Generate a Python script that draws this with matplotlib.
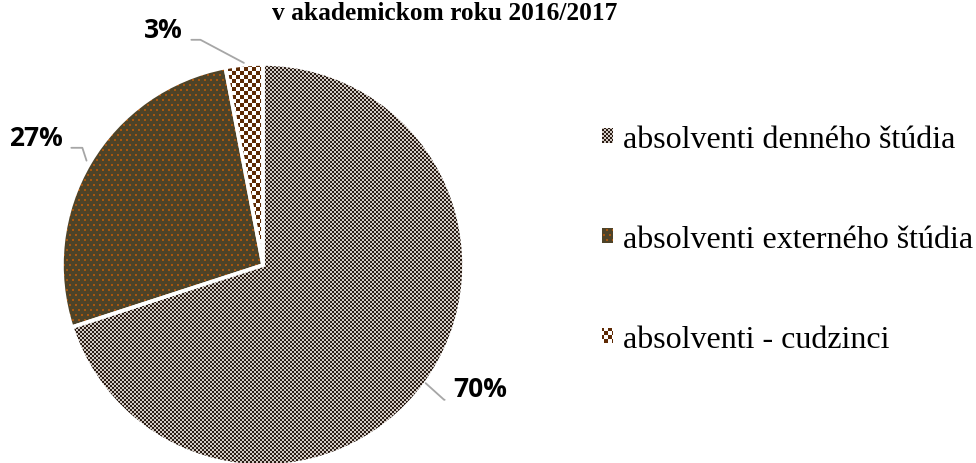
import numpy as np
import matplotlib
matplotlib.use("Agg")
import matplotlib.pyplot as plt
import matplotlib.patches as mpatches
from matplotlib.colors import to_rgb

# ---- data ----
categories = ['absolventi denného štúdia', 'absolventi externého štúdia', 'absolventi - cudzinci']
values = [70, 27, 3]
pct_labels = [f'{v}%' for v in values]
title_line = 'v akademickom roku 2016/2017'

W, H = 976, 464
fig = plt.figure(figsize=(W / 100, H / 100), dpi=100)
ax = fig.add_axes([0, 0, 1, 1])
ax.axis('off')

# ---- pattern fills (styling) ----
yy, xx = np.mgrid[0:H, 0:W]
def fill(mask, c1, c2):
    a = np.empty((H, W, 3))
    a[:] = to_rgb(c2)
    a[mask] = to_rgb(c1)
    return a

p1 = fill(((xx // 2 + yy // 2) % 2) == 0, '#2a1c14', '#d2cac4')
row = yy // 5
p2 = fill((((xx + 3 * (row % 2)) % 6) < 2) & ((yy % 5) < 2), '#a8560f', '#4e4328')
p3 = fill(((xx // 4 + yy // 4) % 2) == 0, '#5e2a04', '#ffffff')
patterns = [p1, p2, p3]
avg_colors = ['#807770', '#55462a', '#ae9482']

center = (263, 198)
radius = 201
explode = [0, 0.02, 0.01]

wedges, _ = ax.pie(values, colors=avg_colors, startangle=90, counterclock=False,
                   center=center, radius=radius, explode=explode,
                   wedgeprops=dict(linewidth=0))
for w, p in zip(wedges, patterns):
    im = ax.imshow(p, extent=(0, W, 0, H), origin='upper', interpolation='nearest', zorder=2)
    im.set_clip_path(w)

# white separators
edges, _ = ax.pie(values, startangle=90, counterclock=False, center=center,
                  radius=radius, explode=explode,
                  wedgeprops=dict(fill=False, edgecolor='white', linewidth=2.6))
for e in edges:
    e.set_zorder(3)

ax.set_xlim(0, W)
ax.set_ylim(0, H)
ax.set_aspect('equal')

# ---- percentage labels with leader lines ----
label_pos = [(453, 74), (63, 326), (183, 434)]
label_ha = ['left', 'right', 'right']
relpos = [(0, 0.1), (1, 0.1), (1, 0.1)]
angleB = [-42, 108, 152]
ang = 90.0
for i, v in enumerate(values):
    span = 360.0 * v / sum(values)
    mid = np.deg2rad(ang - span / 2)
    ang -= span
    r = radius * (1 + explode[i])
    xy = (center[0] + r * np.cos(mid), center[1] + r * np.sin(mid))
    ax.annotate(pct_labels[i], xy=xy, xytext=label_pos[i], ha=label_ha[i], va='center',
                fontsize=19, fontweight='bold', family='Open Sans', color='black', zorder=4,
                arrowprops=dict(arrowstyle='-', color='#a6a6a6', lw=1.3, shrinkA=4, shrinkB=0,
                                relpos=relpos[i],
                                connectionstyle=f'angle,angleA=0,angleB={angleB[i]},rad=0'))

# ---- title (first line outside visible area) ----
fig.text(445 / W, 1 - 20 / H, title_line, ha='center', va='baseline',
         fontsize=18.3, fontweight='bold', family='Liberation Serif')

# ---- legend ----
handles = [mpatches.Patch(facecolor=c, edgecolor='none') for c in avg_colors]
leg = ax.legend(handles, categories, loc='upper left', bbox_to_anchor=(602, 338),
                bbox_transform=ax.transData, frameon=False, borderpad=0, borderaxespad=0,
                prop=dict(family='Liberation Serif', size=23),
                handlelength=0.34, handleheight=0.34, handletextpad=0.32,
                labelspacing=2.22)
leg.set_zorder(5)
for hp, p in zip(leg.get_patches(), patterns):
    im = ax.imshow(p, extent=(0, W, 0, H), origin='upper', interpolation='nearest', zorder=6)
    im.set_clip_path(hp)
ax.set_xlim(0, W)
ax.set_ylim(0, H)

fig.savefig('out.png', dpi=100)
